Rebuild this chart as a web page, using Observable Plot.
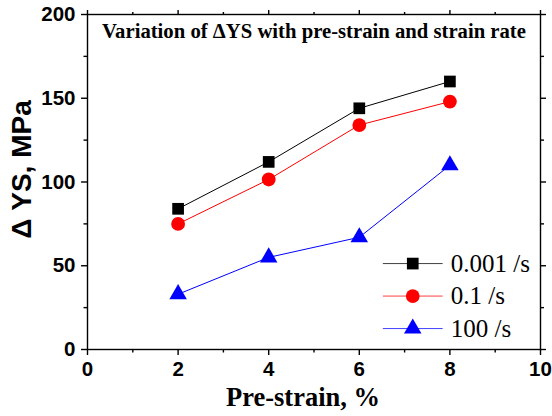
<!DOCTYPE html>
<html>
<head>
<meta charset="utf-8">
<script src="https://cdn.jsdelivr.net/npm/d3@7"></script>
<script src="https://cdn.jsdelivr.net/npm/@observablehq/plot@0.6"></script>
<style>
  body { margin: 0; background: #fff; }
</style>
</head>
<body>
<div id="chart"></div>
<script>
// Pre-strain levels (%) and yield-strength increase (MPa) per strain rate
const preStrain = [2, 4, 6, 8];
const rateLabels = ["0.001 /s", "0.1 /s", "100 /s"];
const dysRate0001 = [84, 112, 144, 160];
const dysRate01 = [75, 101.5, 134, 148];
const dysRate100 = [33, 55, 67, 110];
const seriesColors = ["#000000", "#ff0000", "#0000ff"];
const seriesSymbols = ["square", "circle", "triangle"];
const seriesRadius = [6.6, 6.9, 6.5];

const xTicks = [0, 2, 4, 6, 8, 10];
const xMinor = [1, 3, 5, 7, 9];
const yTicks = [0, 50, 100, 150, 200];
const yMinor = [25, 75, 125, 175];

const titleText = "Variation of \u0394YS with pre-strain and strain rate";
const xLabel = "Pre-strain, %";
const yLabel = "\u0394 YS, MPa";

const seriesValues = [dysRate0001, dysRate01, dysRate100];
const rows = seriesValues.flatMap((vals, s) =>
  vals.map((v, i) => ({ x: preStrain[i], y: v, s }))
);

// Legend entries placed in the lower-right of the frame (data units)
const legend = rateLabels.map((label, s) => ({
  label, s,
  x1: 6.52, x2: 7.84, xm: 7.18, xt: 8.02,
  y: 51.3 - s * 19.4
}));

const serif = "'Liberation Serif', 'Times New Roman', serif";
const sans = "'Liberation Sans', Arial, sans-serif";

const marks = [
  // mirrored axes: major and minor ticks on all four sides, pointing outward
  Plot.axisX({ anchor: "bottom", ticks: xTicks, tickSize: 6, tickPadding: 6, strokeWidth: 1.4,
    fontSize: 20.5, fontWeight: "bold", fontFamily: sans, label: null, tickFormat: d => d }),
  Plot.axisX({ anchor: "bottom", ticks: xMinor, tickSize: 3.5, strokeWidth: 1.4, text: null, label: null }),
  Plot.axisX({ anchor: "top", ticks: xTicks, tickSize: 5, strokeWidth: 1.4, text: null, label: null }),
  Plot.axisX({ anchor: "top", ticks: xMinor, tickSize: 3, strokeWidth: 1.4, text: null, label: null }),
  Plot.axisY({ anchor: "left", ticks: yTicks, tickSize: 6, tickPadding: 6, strokeWidth: 1.4,
    fontSize: 20.5, fontWeight: "bold", fontFamily: sans, label: null }),
  Plot.axisY({ anchor: "left", ticks: yMinor, tickSize: 3.5, strokeWidth: 1.4, text: null, label: null }),
  Plot.axisY({ anchor: "right", ticks: yTicks, tickSize: 5, strokeWidth: 1.4, text: null, label: null }),
  Plot.axisY({ anchor: "right", ticks: yMinor, tickSize: 3, strokeWidth: 1.4, text: null, label: null }),
  Plot.frame({ stroke: "#000", strokeWidth: 1.4 }),

  // series lines and markers
  Plot.line(rows, { x: "x", y: "y", z: "s", stroke: d => seriesColors[d.s], strokeWidth: 1 }),
  Plot.dot(rows, { x: "x", y: "y", symbol: d => seriesSymbols[d.s], r: d => seriesRadius[d.s],
    fill: d => seriesColors[d.s], stroke: "none" }),

  // legend
  Plot.link(legend, { x1: "x1", x2: "x2", y1: "y", y2: "y", stroke: d => seriesColors[d.s], strokeWidth: 1, strokeOpacity: 0.75 }),
  Plot.dot(legend, { x: "xm", y: "y", symbol: d => seriesSymbols[d.s], r: d => seriesRadius[d.s],
    fill: d => seriesColors[d.s], stroke: "none" }),
  Plot.text(legend, { x: "xt", y: "y", text: "label", textAnchor: "start", fontFamily: serif,
    fontSize: 25, fill: "#000" }),

  // title and axis titles
  Plot.text([titleText], { frameAnchor: "top", lineAnchor: "middle", dy: 17, fontFamily: serif,
    fontWeight: "bold", fontSize: 20.7, fill: "#000" }),
  Plot.text([xLabel], { frameAnchor: "bottom", lineAnchor: "middle", textAnchor: "middle", dx: -11, dy: 48.5,
    fontFamily: serif, fontWeight: "bold", fontSize: 26.5, fill: "#000" }),
  Plot.text([yLabel], { frameAnchor: "left", lineAnchor: "middle", textAnchor: "middle", dx: -65, dy: -12.5,
    rotate: -90, fontFamily: sans, fontWeight: "bold", fontSize: 28, fill: "#000" })
];

const chart = Plot.plot({
  width: 552,
  height: 416,
  marginLeft: 87,
  marginRight: 12,
  marginTop: 14,
  marginBottom: 67,
  style: { background: "#fff", color: "#000", overflow: "visible" },
  x: { domain: [0, 10] },
  y: { domain: [0, 200] },
  r: { type: "identity" },
  symbol: { type: "identity" },
  marks
});
document.getElementById("chart").appendChild(chart);
</script>
</body>
</html>
